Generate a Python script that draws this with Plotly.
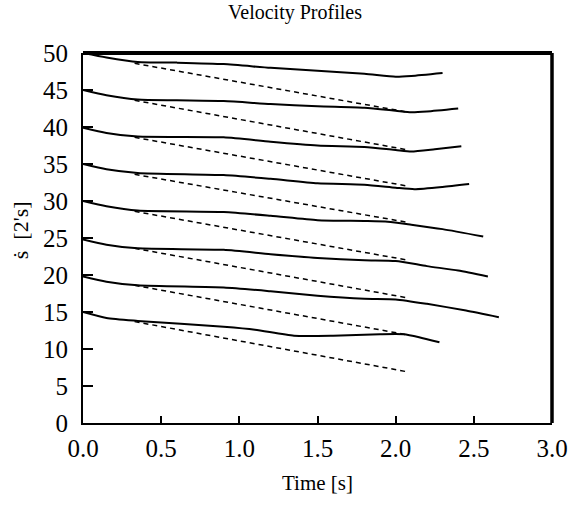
import plotly.graph_objects as go

# Measured velocity profiles: time [s] and speed for each run
times = [
    [0.0, 0.15, 0.35, 0.6, 0.9, 1.2, 1.5, 1.8, 2.0, 2.1, 2.3],
    [0.0, 0.15, 0.35, 0.6, 0.9, 1.2, 1.5, 1.8, 2.0, 2.1, 2.2, 2.4],
    [0.0, 0.15, 0.35, 0.9, 1.2, 1.5, 1.8, 2.0, 2.1, 2.25, 2.42],
    [0.0, 0.15, 0.35, 0.9, 1.2, 1.5, 1.8, 2.0, 2.12, 2.3, 2.47],
    [0.0, 0.15, 0.35, 0.9, 1.2, 1.5, 1.8, 1.95, 2.1, 2.3, 2.56],
    [0.0, 0.15, 0.35, 0.9, 1.2, 1.5, 1.8, 2.0, 2.2, 2.4, 2.59],
    [0.0, 0.15, 0.35, 0.9, 1.2, 1.5, 1.8, 2.0, 2.2, 2.45, 2.66],
    [0.0, 0.15, 0.35, 0.9, 1.1, 1.35, 1.6, 1.9, 2.05, 2.15, 2.28],
]
speeds = [
    [50.0, 49.4, 48.8, 48.7, 48.5, 48.0, 47.6, 47.2, 46.8, 46.9, 47.3],
    [45.0, 44.3, 43.7, 43.6, 43.5, 43.1, 42.8, 42.6, 42.2, 42.0, 42.1, 42.5],
    [39.9, 39.2, 38.7, 38.6, 38.0, 37.5, 37.3, 36.9, 36.7, 37.0, 37.4],
    [35.0, 34.3, 33.8, 33.5, 33.0, 32.4, 32.2, 31.8, 31.6, 31.9, 32.3],
    [30.0, 29.3, 28.7, 28.5, 28.0, 27.4, 27.3, 27.2, 26.8, 26.2, 25.2],
    [24.8, 24.1, 23.6, 23.4, 22.8, 22.3, 22.0, 21.9, 21.2, 20.6, 19.8],
    [19.8, 19.1, 18.6, 18.3, 17.8, 17.2, 16.8, 16.7, 16.1, 15.2, 14.3],
    [15.0, 14.2, 13.8, 13.0, 12.6, 11.8, 11.8, 12.0, 12.0, 11.6, 10.9],
]

# Linear reference profiles (dashed): start/end time and speed
ref_t = [0.33, 2.08]
ref_start = [48.6, 43.6, 38.6, 33.6, 28.6, 23.6, 18.6, 13.7]
ref_end = [42.0, 36.9, 32.0, 27.1, 22.0, 16.9, 11.9, 6.9]

x_ticks = [0.0, 0.5, 1.0, 1.5, 2.0, 2.5, 3.0]
x_tick_text = ["0.0", "0.5", "1.0", "1.5", "2.0", "2.5", "3.0"]
y_ticks = [0, 5, 10, 15, 20, 25, 30, 35, 40, 45, 50]

SERIF = "'Liberation Serif', 'Times New Roman', Times, 'DejaVu Serif', serif"

fig = go.Figure()

for t, v in zip(times, speeds):
    fig.add_trace(go.Scatter(
        x=t, y=v, mode="lines", line=dict(color="black", width=2, shape="spline", smoothing=0.6),
        showlegend=False, hoverinfo="skip"))

for a, b in zip(ref_start, ref_end):
    fig.add_trace(go.Scatter(
        x=ref_t, y=[a, b], mode="lines", line=dict(color="black", width=1.5, dash="5px,4px"),
        showlegend=False, hoverinfo="skip"))

fig.update_layout(
    width=580, height=512,
    margin=dict(l=83, r=22, t=53, b=89),
    paper_bgcolor="white", plot_bgcolor="white",
    font=dict(family=SERIF, color="black"),
    title=dict(text="Velocity Profiles", x=295 / 580, xref="container", xanchor="center",
               y=0.99, yref="container", yanchor="top",
               font=dict(size=20, family=SERIF, color="black")),
    xaxis=dict(range=[0, 3.0], tickvals=x_ticks, ticktext=x_tick_text,
               showgrid=False, zeroline=False, showline=True, linecolor="black", linewidth=2,
               ticks="inside", ticklen=7, tickwidth=1.5, tickcolor="black",
               tickfont=dict(size=25, family=SERIF, color="black"), ticklabelstandoff=2,
               title=dict(text="Time [s]", font=dict(size=21, family=SERIF, color="black"),
                          standoff=14)),
    yaxis=dict(range=[0, 50], tickvals=y_ticks,
               showgrid=False, zeroline=False, showline=True, linecolor="black", linewidth=2,
               ticks="inside", ticklen=10, tickwidth=1.5, tickcolor="black",
               tickfont=dict(size=25, family=SERIF, color="black"), ticklabelstandoff=8),
    annotations=[dict(text="ṡ  [2's]", xref="paper", yref="paper", x=-0.133, y=0.52,
                      textangle=-90, showarrow=False, xanchor="center", yanchor="middle",
                      font=dict(size=22, family=SERIF, color="black"))],
    shapes=[
        dict(type="line", xref="paper", yref="paper", x0=0, x1=1, y0=1, y1=1,
             line=dict(color="black", width=4)),
        dict(type="line", xref="paper", yref="paper", x0=1, x1=1, y0=0, y1=1,
             line=dict(color="black", width=3.5)),
    ],
)

fig.write_html("out.html")
